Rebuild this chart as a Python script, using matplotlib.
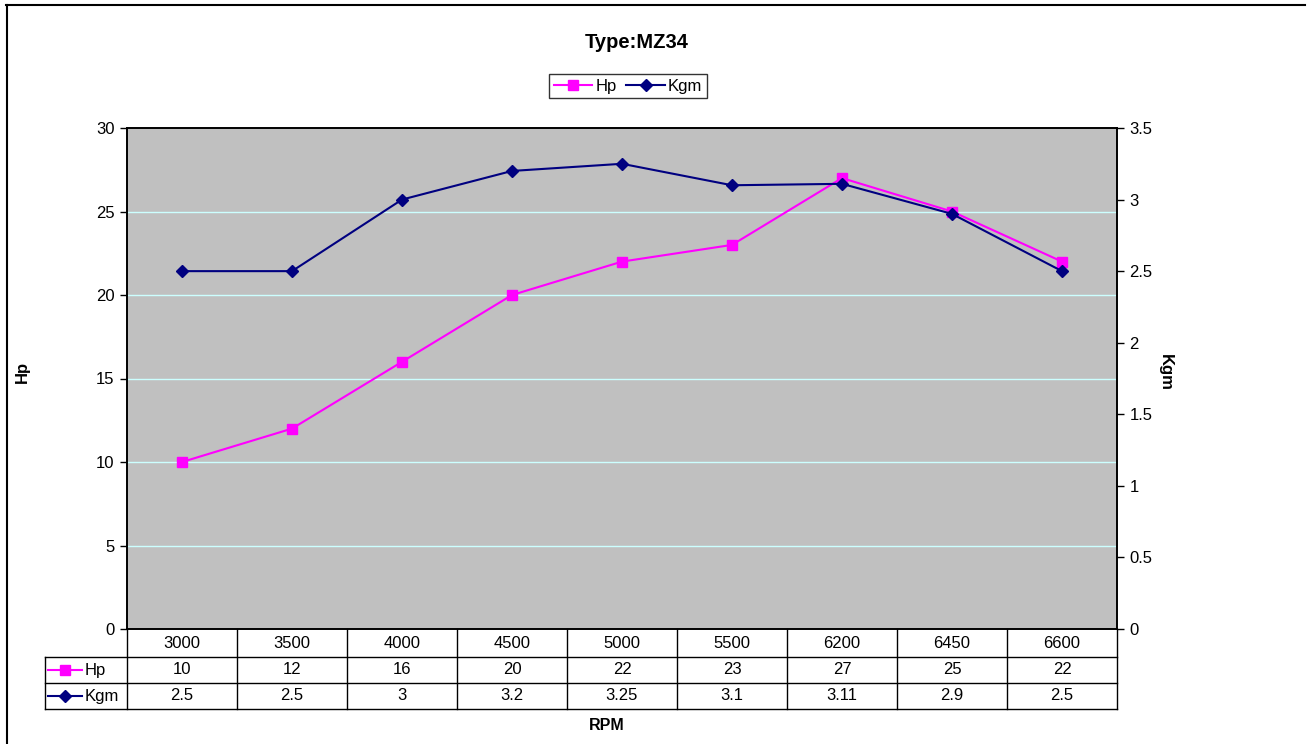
import numpy as np
import matplotlib
matplotlib.use("Agg")
import matplotlib.pyplot as plt
import matplotlib.transforms as mtransforms
from matplotlib.lines import Line2D
from matplotlib.ticker import FuncFormatter, MultipleLocator

plt.rcParams['font.family'] = ['Liberation Sans', 'DejaVu Sans']

# data
rpm = ["3000", "3500", "4000", "4500", "5000", "5500", "6200", "6450", "6600"]
hp = [10, 12, 16, 20, 22, 23, 27, 25, 22]
kgm = [2.5, 2.5, 3, 3.2, 3.25, 3.1, 3.11, 2.9, 2.5]

W, H = 1309, 744
fig = plt.figure(figsize=(W / 100, H / 100), dpi=100)

# plot area in pixels: x 127..1117, y 128..629
ax = fig.add_axes([127 / W, 1 - 629 / H, 990 / W, 501 / H])
ax.set_facecolor('#C0C0C0')
x = np.arange(len(rpm))

l1, = ax.plot(x, hp, color='#FF00FF', lw=1.5, marker='s', ms=7,
              mfc='#FF00FF', mec='#FF00FF', label='Hp', zorder=3)
ax.set_xlim(-0.5, len(rpm) - 0.5)
ax.set_ylim(0, 30)
ax.yaxis.set_major_locator(MultipleLocator(5))
ax.set_xticks([])
ax.tick_params(axis='y', direction='out', length=5, width=1, labelsize=12, pad=4)
for yv in range(5, 30, 5):
    ax.axhline(yv, color='#CCFFFF', lw=1, zorder=1)
for s in ax.spines.values():
    s.set_color('black')
    s.set_linewidth(1.2)

ax2 = ax.twinx()
l2, = ax2.plot(x, kgm, color='#000080', lw=1.5, marker='D', ms=6,
               mfc='#000080', mec='#000080', label='Kgm', zorder=4)
ax2.set_ylim(0, 3.5)
ax2.yaxis.set_major_locator(MultipleLocator(0.5))
ax2.yaxis.set_major_formatter(FuncFormatter(lambda v, p: '%g' % v))
ax2.tick_params(axis='y', direction='out', length=5, width=1, labelsize=12, pad=4)
for s in ax2.spines.values():
    s.set_color('black')
    s.set_linewidth(1.2)

ax.set_ylabel('Hp', fontsize=12, fontweight='bold', labelpad=0)
ax.yaxis.set_label_coords(30 / W, 0.5, transform=fig.transFigure)
ax2.set_ylabel('Kgm', fontsize=12, fontweight='bold', rotation=-90, va='center')
ax2.yaxis.set_label_coords(1165 / W, 0.5, transform=fig.transFigure)

# data table under the plot
trans = mtransforms.blended_transform_factory(ax.transData, ax.transAxes)
h1 = -28 / 501
h2 = -54 / 501
h3 = -80 / 501
xl = -0.5 - 82 / 110
xr = len(rpm) - 0.5
lk = dict(color='black', lw=1, transform=trans, clip_on=False)
for e in np.arange(len(rpm) + 1) - 0.5:
    ax.add_line(Line2D([e, e], [0, h3], **lk))
ax.add_line(Line2D([xl, xl], [h1, h3], **lk))
for hy in (h1, h2, h3):
    ax.add_line(Line2D([xl, xr], [hy, hy], **lk))

fs = 12
for i, r in enumerate(rpm):
    ax.text(i, h1 / 2, r, transform=trans, ha='center', va='center', fontsize=fs)
    ax.text(i, (h1 + h2) / 2, '%g' % hp[i], transform=trans, ha='center', va='center', fontsize=fs)
    ax.text(i, (h2 + h3) / 2, '%g' % kgm[i], transform=trans, ha='center', va='center', fontsize=fs)

# row labels with legend keys
for yc, lab, col, mk, ms in [((h1 + h2) / 2, 'Hp', '#FF00FF', 's', 7),
                            ((h2 + h3) / 2, 'Kgm', '#000080', 'D', 6)]:
    k0 = xl + 3 / 110
    k1 = xl + 37 / 110
    ax.add_line(Line2D([k0, k1], [yc, yc], color=col, lw=1.5, transform=trans, clip_on=False))
    ax.add_line(Line2D([(k0 + k1) / 2], [yc], color=col, marker=mk, ms=ms, mfc=col, mec=col,
                       transform=trans, clip_on=False))
    ax.text(xl + 40 / 110, yc, lab, transform=trans, ha='left', va='center', fontsize=fs)

fig.text(607 / W, 1 - 725 / H, 'RPM', ha='center', va='center', fontsize=11.5, fontweight='bold')
fig.text(637 / W, 1 - 43 / H, 'Type:MZ34', ha='center', va='center', fontsize=14.5, fontweight='bold')

leg = fig.legend(handles=[l1, l2], loc='center', bbox_to_anchor=(628 / W, 1 - 86 / H),
                 ncol=2, fontsize=12, frameon=True, fancybox=False, handlelength=2.3,
                 handletextpad=0.2, columnspacing=0.6, borderpad=0.25, borderaxespad=0)
leg.get_frame().set_edgecolor('black')
leg.get_frame().set_linewidth(1)

# outer chart frame (only top and left visible)
fig.add_artist(Line2D([6 / W, 1305 / W], [1 - 5 / H, 1 - 5 / H], color='black', lw=1.5))
fig.add_artist(Line2D([7 / W, 7 / W], [1 - 5 / H, 0], color='black', lw=1.5))

fig.savefig('out.png', dpi=100, facecolor='white')
